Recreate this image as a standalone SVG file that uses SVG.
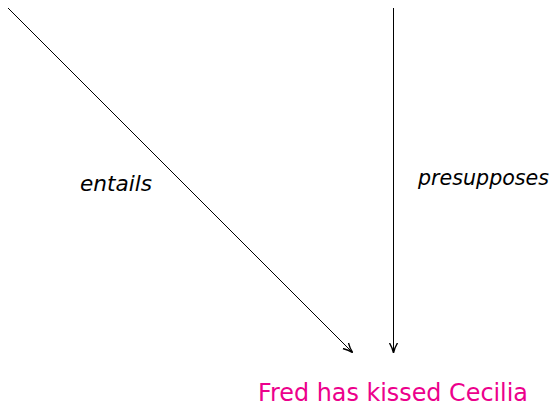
<svg xmlns="http://www.w3.org/2000/svg" width="553" height="406" viewBox="0 0 553 406">
<style>
.lbl{font-family:"DejaVu Sans","Noto Sans",sans-serif;font-style:italic;font-size:21px;fill:#000}
.node{font-family:"DejaVu Sans","Noto Sans",sans-serif;font-size:25px;fill:#ec008c}
.edge{stroke:#000;stroke-width:1;fill:none}
</style>
<defs>
<marker id="ah" viewBox="0 0 10 10" refX="9" refY="5" markerWidth="10" markerHeight="10" markerUnits="userSpaceOnUse" orient="auto">
<path d="M0,1 Q5,4 10,5 Q5,6 0,9" fill="none" stroke="#000" stroke-width="1.4"/>
</marker>
</defs>
<rect width="553" height="406" fill="#fff"/>
<g id="connectors">
<line class="edge" x1="8" y1="8" x2="352" y2="352" marker-end="url(#ah)"/>
<line class="edge" x1="393.5" y1="8" x2="393.5" y2="352" marker-end="url(#ah)"/>
<text class="lbl" x="80" y="191" textLength="72" lengthAdjust="spacingAndGlyphs">entails</text>
<text class="lbl" x="418" y="185" textLength="131" lengthAdjust="spacingAndGlyphs">presupposes</text>
</g>
<g id="node-fred">
<text class="node" x="258" y="401" textLength="270" lengthAdjust="spacingAndGlyphs">Fred has kissed Cecilia</text>
</g>
</svg>
